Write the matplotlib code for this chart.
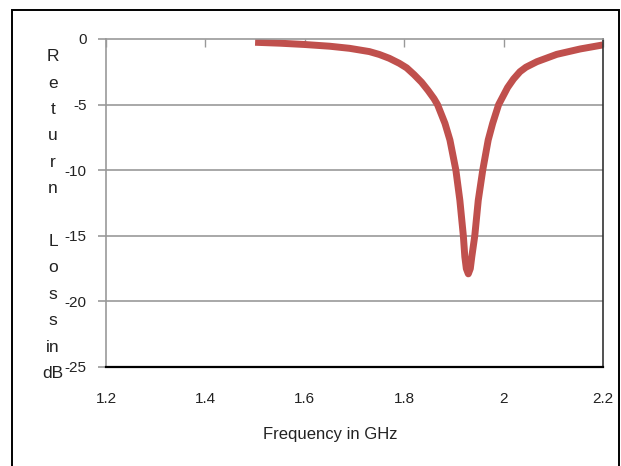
import matplotlib
matplotlib.use("Agg")
import matplotlib.pyplot as plt
from matplotlib.patches import Rectangle

# return loss (GHz, dB)
freq_ghz = [1.500, 1.550, 1.600, 1.650, 1.690, 1.730, 1.750, 1.770, 1.790, 1.805,
            1.820, 1.835, 1.848, 1.860, 1.867, 1.882, 1.892, 1.904, 1.912, 1.919,
            1.922, 1.925, 1.929, 1.933, 1.936, 1.942, 1.949, 1.958, 1.969, 1.978,
            1.990, 2.008, 2.020, 2.033, 2.045, 2.067, 2.107, 2.154, 2.200]
return_loss_db = [-0.25, -0.32, -0.42, -0.55, -0.71, -0.96, -1.18, -1.47, -1.85, -2.20,
                  -2.72, -3.30, -3.92, -4.55, -5.00, -6.43, -7.70, -10.0, -12.3, -15.0,
                  -16.6, -17.5, -17.9, -17.5, -16.6, -15.0, -12.3, -10.0, -7.70, -6.43,
                  -5.00, -3.70, -3.05, -2.49, -2.15, -1.73, -1.17, -0.76, -0.45]

x_ticks = [1.2, 1.4, 1.6, 1.8, 2.0, 2.2]
x_tick_labels = ["1.2", "1.4", "1.6", "1.8", "2", "2.2"]
y_ticks = [0, -5, -10, -15, -20, -25]

plt.rcParams["font.family"] = ["Liberation Sans", "DejaVu Sans"]

W, H = 621, 466
fig = plt.figure(figsize=(W / 100, H / 100), dpi=100)
fig.patch.set_facecolor("white")

# outer chart border (bottom edge runs off the image)
fig.patches.append(Rectangle((12 / W, -0.05), (619 - 12) / W, 1.05 - 10 / H,
                             transform=fig.transFigure, fill=False,
                             edgecolor="black", linewidth=1.4))

ax = fig.add_axes([106 / W, 1 - 367 / H, (603 - 106) / W, (367 - 39) / H])
ax.plot(freq_ghz, return_loss_db, color="#C0504D", linewidth=5,
        solid_capstyle="butt", solid_joinstyle="round")

ax.set_xlim(1.2, 2.2)
ax.set_ylim(-25, 0)

grid_c = "#999999"
ax.set_yticks(y_ticks)
ax.set_yticklabels([str(v) for v in y_ticks])
for v in y_ticks[1:-1]:
    ax.axhline(v, color=grid_c, linewidth=1.2, zorder=0)

ax.set_xticks(x_ticks)
ax.set_xticklabels(x_tick_labels)
ax.tick_params(axis="x", which="both", bottom=False, top=True, direction="in",
               length=6, width=1, color=grid_c, labelbottom=True, labeltop=False,
               pad=18, labelsize=11, labelcolor="#222222")
ax.tick_params(axis="y", direction="out", length=6, width=1.2, color=grid_c,
               pad=8, labelsize=11, labelcolor="#222222")

ax.spines["top"].set_color(grid_c)
ax.spines["top"].set_linewidth(1.2)
ax.spines["left"].set_color(grid_c)
ax.spines["left"].set_linewidth(1.2)
ax.spines["bottom"].set_color("black")
ax.spines["bottom"].set_linewidth(1.6)
ax.spines["right"].set_color("#333333")
ax.spines["right"].set_linewidth(1.2)

# stacked vertical y label, one letter per line like the original
fig.text(53 / W, 1 - 215 / H, "R\ne\nt\nu\nr\nn\n\nL\no\ns\ns\nin\ndB",
         ha="center", va="center", fontsize=12.5, color="#222222", linespacing=1.95)
fig.text(330 / W, 1 - 434 / H, "Frequency in GHz", ha="center", va="center",
         fontsize=12, color="#222222")

fig.savefig("out.png", dpi=100)
